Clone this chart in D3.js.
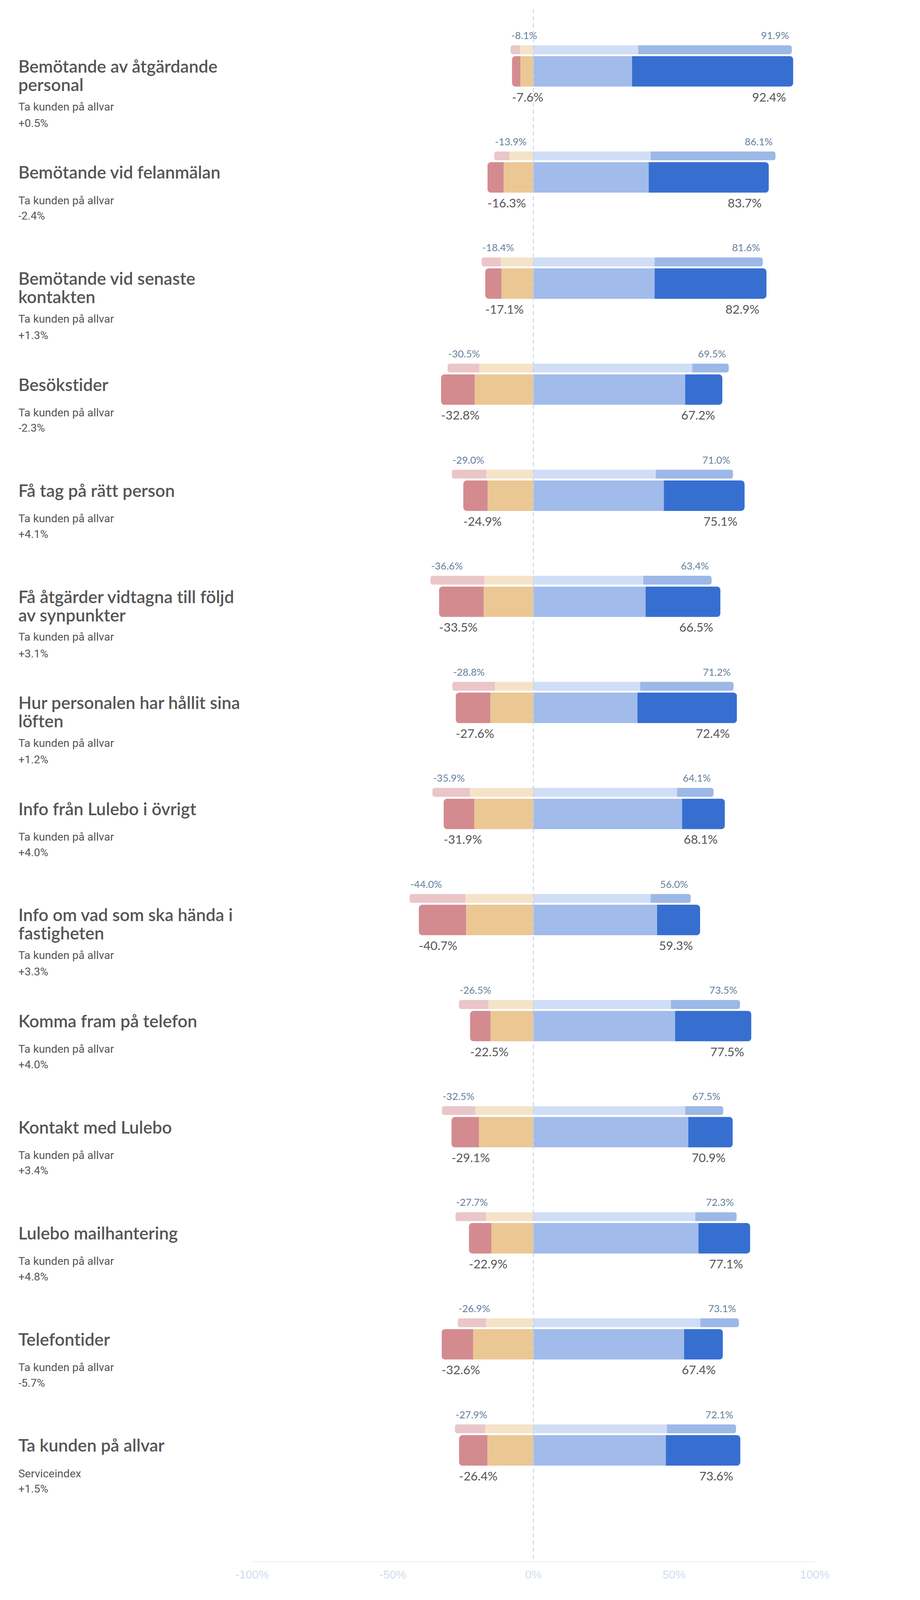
<!DOCTYPE html>
<html>
<head>
<meta charset="utf-8">
<script type="text/javascript" src="https://cdn.jsdelivr.net/npm/d3@7/dist/d3.min.js"></script>
<style>
  html, body { margin: 0; padding: 0; background: #ffffff; overflow: hidden; }
  svg { display: block; width: 100vw; height: 100vh; }
  text { font-variant-ligatures: none; font-feature-settings: "liga" 0, "clig" 0; }
</style>
</head>
<body>
<script type="text/javascript">
// categories (line breaks as in the picture)
var categories = [
  "Bemötande av åtgärdande\npersonal",
  "Bemötande vid felanmälan",
  "Bemötande vid senaste\nkontakten",
  "Besökstider",
  "Få tag på rätt person",
  "Få åtgärder vidtagna till följd\nav synpunkter",
  "Hur personalen har hållit sina\nlöften",
  "Info från Lulebo i övrigt",
  "Info om vad som ska hända i\nfastigheten",
  "Komma fram på telefon",
  "Kontakt med Lulebo",
  "Lulebo mailhantering",
  "Telefontider",
  "Ta kunden på allvar"
];
var subLabels = ["Ta kunden på allvar","Ta kunden på allvar","Ta kunden på allvar","Ta kunden på allvar",
  "Ta kunden på allvar","Ta kunden på allvar","Ta kunden på allvar","Ta kunden på allvar",
  "Ta kunden på allvar","Ta kunden på allvar","Ta kunden på allvar","Ta kunden på allvar",
  "Ta kunden på allvar","Serviceindex"];
var changes = ["+0.5%","-2.4%","+1.3%","-2.3%","+4.1%","+3.1%","+1.2%","+4.0%","+3.3%","+4.0%","+3.4%","+4.8%","-5.7%","+1.5%"];

// previous period (thin bar): negative total, strongest negative part, positive total, strongest positive part
var prevNeg       = [8.1, 13.9, 18.4, 30.5, 29.0, 36.6, 28.8, 35.9, 44.0, 26.5, 32.5, 27.7, 26.9, 27.9];
var prevNegStrong = [3.4, 5.4, 6.9, 11.3, 12.3, 19.2, 15.2, 13.4, 19.9, 10.5, 12.0, 10.9, 10.1, 10.9];
var prevPos       = [91.9, 86.1, 81.6, 69.5, 71.0, 63.4, 71.2, 64.1, 56.0, 73.5, 67.5, 72.3, 73.1, 72.1];
var prevPosStrong = [54.6, 44.4, 38.5, 13.0, 27.5, 24.3, 33.2, 13.0, 14.3, 24.6, 13.5, 14.7, 13.7, 24.6];

// current period (thick bar)
var curNeg       = [7.6, 16.3, 17.1, 32.8, 24.9, 33.5, 27.6, 31.9, 40.7, 22.5, 29.1, 22.9, 32.6, 26.4];
var curNegStrong = [3.0, 5.8, 5.8, 12.0, 8.7, 15.9, 12.3, 10.9, 16.8, 7.3, 9.8, 8.0, 11.2, 10.1];
var curPos       = [92.4, 83.7, 82.9, 67.2, 75.1, 66.5, 72.4, 68.1, 59.3, 77.5, 70.9, 77.1, 67.4, 73.6];
var curPosStrong = [57.3, 42.7, 39.8, 13.2, 28.7, 26.6, 35.4, 15.2, 15.3, 27.1, 15.8, 18.4, 13.8, 26.5];

var tickValues = [-100, -50, 0, 50, 100];

function drawChart(){
  var width = 2355, height = 4451;
  var rowHeight = 295.1;
  var titleFont = "Lato, 'Open Sans', sans-serif";
  var subFont = "Roboto, 'Liberation Sans', sans-serif";

  var prevColors = ["#eac6c9", "#f5e3c8", "#d0ddf6", "#9cb8e7"];
  var curColors  = ["#d38b90", "#ebc794", "#a1bbeb", "#376fd1"];

  var svg = d3.select("body").append("svg")
    .attr("viewBox", "0 0 " + width + " " + height)
    .attr("preserveAspectRatio", "xMinYMin meet")
    .attr("id", "chart");

  var x = d3.scaleLinear().domain([-100, 100]).range([701, 2266]);
  var defs = svg.append("defs");

  var rows = svg.selectAll("g.row")
    .data(categories)
    .enter().append("g")
    .attr("class", "row")
    .attr("transform", function(d, i){ return "translate(0," + (i * rowHeight) + ")"; });

  // left text block
  rows.each(function(d, i){
    var g = d3.select(this);
    var lines = d.split("\n");
    var t = g.append("text")
      .attr("x", 51)
      .attr("y", 202)
      .attr("font-family", titleFont)
      .attr("font-weight", 600)
      .attr("font-size", 48)
      .attr("fill", "#555555");
    lines.forEach(function(l, j){
      t.append("tspan").attr("x", 51).attr("dy", j === 0 ? 0 : 51).text(l);
    });
    var two = lines.length > 1;
    g.append("text")
      .attr("x", 51)
      .attr("y", two ? 307 : 273)
      .attr("font-family", subFont)
      .attr("font-size", 31)
      .attr("fill", "#555555")
      .text(subLabels[i]);
    g.append("text")
      .attr("x", 51)
      .attr("y", two ? 353 : 316)
      .attr("font-family", subFont)
      .attr("font-size", 31)
      .attr("fill", "#555555")
      .text(changes[i]);
  });

  // one stacked bar: neg total, neg strong, pos total, pos strong
  function addBar(g, id, y, h, r, neg, negS, pos, posS, colors){
    var left = x(-neg), right = x(pos);
    defs.append("clipPath").attr("id", id)
      .append("rect")
      .attr("x", left).attr("y", y)
      .attr("width", right - left).attr("height", h)
      .attr("rx", r).attr("ry", r);
    var segs = [
      [-neg, -(neg - negS)],
      [-(neg - negS), 0],
      [0, pos - posS],
      [pos - posS, pos]
    ];
    g.append("g").attr("clip-path", "url(#" + id + ")")
      .selectAll("rect").data(segs).enter().append("rect")
      .attr("x", function(s){ return x(s[0]); })
      .attr("y", y)
      .attr("width", function(s){ return x(s[1]) - x(s[0]); })
      .attr("height", h)
      .attr("fill", function(s, k){ return colors[k]; });
  }

  rows.each(function(d, i){
    var g = d3.select(this);
    addBar(g, "prev" + i, 126, 25, 7, prevNeg[i], prevNegStrong[i], prevPos[i], prevPosStrong[i], prevColors);
    addBar(g, "cur" + i, 156, 85, 10, curNeg[i], curNegStrong[i], curPos[i], curPosStrong[i], curColors);

    g.append("text")
      .attr("x", x(-prevNeg[i]) + 2).attr("y", 109)
      .attr("font-family", titleFont).attr("font-size", 28)
      .attr("fill", "#66809e")
      .text("-" + prevNeg[i].toFixed(1) + "%");
    g.append("text")
      .attr("x", x(prevPos[i]) - 8).attr("y", 109)
      .attr("text-anchor", "end")
      .attr("font-family", titleFont).attr("font-size", 28)
      .attr("fill", "#66809e")
      .text(prevPos[i].toFixed(1) + "%");
    g.append("text")
      .attr("x", x(-curNeg[i])).attr("y", 282)
      .attr("font-family", titleFont).attr("font-size", 34)
      .attr("fill", "#555555")
      .text("-" + curNeg[i].toFixed(1) + "%");
    g.append("text")
      .attr("x", x(curPos[i]) - 20).attr("y", 282)
      .attr("text-anchor", "end")
      .attr("font-family", titleFont).attr("font-size", 34)
      .attr("fill", "#555555")
      .text(curPos[i].toFixed(1) + "%");
  });

  // dashed zero line
  svg.append("line")
    .attr("x1", x(0)).attr("x2", x(0))
    .attr("y1", 25).attr("y2", 4337)
    .attr("stroke", "#c3d3ec")
    .attr("stroke-opacity", 0.85)
    .attr("stroke-width", 3)
    .attr("stroke-dasharray", "12,8");

  // axis
  var axis = svg.append("g")
    .attr("transform", "translate(0,4344)")
    .call(d3.axisBottom(x).tickValues(tickValues).tickSize(0).tickPadding(25)
      .tickFormat(function(d){ return d + "%"; }));
  axis.select(".domain").attr("stroke", "#edf1f8").attr("stroke-width", 3);
  axis.selectAll("text")
    .attr("font-family", "'Liberation Sans', Arial, sans-serif")
    .attr("font-size", 32)
    .attr("fill", "#d0dcec");
}
drawChart();
</script>
</body>
</html>
